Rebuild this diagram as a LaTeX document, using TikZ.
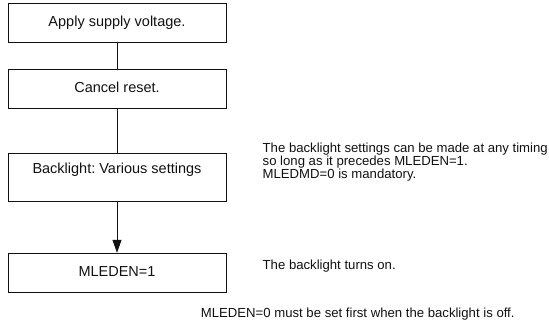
\documentclass[tikz,border=0pt]{standalone}
\usepackage{fontspec}
\setmainfont{Liberation Sans}
\usetikzlibrary{arrows.meta}
\definecolor{blink}{HTML}{111111}
\tikzset{
  blbox/.style={draw=blink,line width=0.8pt,minimum width=218pt,inner sep=0pt,
    text height=10.5pt,text depth=3pt,text=blink,font=\fontsize{14.5}{16}\selectfont},
  blnote/.style={inner sep=0pt,align=left,text=blink,font=\fontsize{13.15}{11.2}\selectfont}}

\begin{document}
\frenchspacing
\begin{tikzpicture}[x=1pt,y=-1pt]
  \useasboundingbox (0,0) rectangle (549,328);
  \node[blbox,minimum height=39pt] (supply) at (117,22.8) {Apply supply voltage.};
  \node[blbox,minimum height=39pt] (reset) at (117,88.7) {Cancel reset.};
  \node[blbox,anchor=north,text height=19.9pt,text depth=27.5pt] (backl) at (117,153.3) {Backlight: Various settings};
  \node[blbox,minimum height=39.5pt] (mleden) at (117,273) {MLEDEN=1};
  \draw[blink,line width=0.8pt] (supply) -- (reset) (reset) -- (backl);
  \draw[blink,line width=0.8pt,-{Triangle[length=13pt,width=9pt]}] (backl) -- (mleden);
  \node[blnote,anchor=north west] (setnote) at (262.5,142.3)
    {The backlight settings can be made at any timing\\so long as it precedes MLEDEN=1.\\MLEDMD=0 is mandatory.};
  \node[blnote,anchor=base west] (onnote) at (262.5,269.7) {The backlight turns on.};
  \node[blnote,anchor=base west] (offnote) at (200.7,317.4) {MLEDEN=0 must be set first when the backlight is off.};
\end{tikzpicture}
\end{document}
